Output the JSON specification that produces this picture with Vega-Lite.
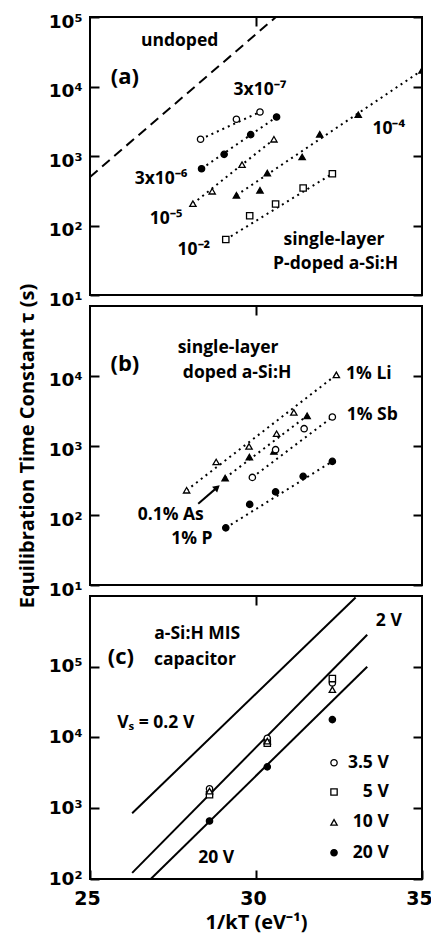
{
  "$schema": "https://vega.github.io/schema/vega-lite/v6.json",
  "background": "white",
  "padding": {"left": 16, "top": 11, "right": 0, "bottom": 2},
  "bounds": "flush",
  "spacing": 11,
  "config": {
    "view": {"stroke": "black", "strokeWidth": 2},
    "font": "Open Sans",
    "axis": {"grid": false, "domain": false, "tickColor": "black", "tickWidth": 2, "tickSize": -9, "labelPadding": 17, "labelOffset": 4,
      "labelFont": "DejaVu Sans", "labelFontWeight": "bold", "labelFontSize": 18.5, "labelColor": "black",
      "titleFont": "Open Sans", "titleFontWeight": "bold", "titleFontSize": 20, "titleColor": "black"},
    "text": {"font": "Open Sans", "fontWeight": "bold", "color": "black", "fontSize": 17.5}
  },
  "resolve": {"scale": {"x": "independent", "y": "independent", "shape": "independent", "fill": "independent"}},
  "datasets": {
    "fitsA": [
      {"s": "a1", "x": 28.33, "y": 1740}, {"s": "a1", "x": 30.12, "y": 4300},
      {"s": "a2", "x": 28.36, "y": 656}, {"s": "a2", "x": 30.62, "y": 3640},
      {"s": "a3", "x": 28.10, "y": 206}, {"s": "a3", "x": 30.54, "y": 1740},
      {"s": "a4", "x": 29.41, "y": 272}, {"s": "a4", "x": 35.0, "y": 17100},
      {"s": "a5", "x": 29.09, "y": 63}, {"s": "a5", "x": 32.30, "y": 556}
    ],
    "undoped": [{"x": 25, "y": 500}, {"x": 30.6, "y": 100000}],
    "pointsA": [
      {"x": 28.33, "y": 1740, "m": "oc"}, {"x": 29.41, "y": 3375, "m": "oc"}, {"x": 30.12, "y": 4300, "m": "oc"},
      {"x": 28.36, "y": 656, "m": "fc"}, {"x": 29.04, "y": 1057, "m": "fc"}, {"x": 29.84, "y": 2027, "m": "fc"}, {"x": 30.62, "y": 3640, "m": "fc"},
      {"x": 28.10, "y": 206, "m": "ot"}, {"x": 28.68, "y": 311, "m": "ot"}, {"x": 29.58, "y": 750, "m": "ot"}, {"x": 30.54, "y": 1740, "m": "ot"},
      {"x": 29.41, "y": 272, "m": "ft"}, {"x": 30.12, "y": 321, "m": "ft"}, {"x": 30.34, "y": 569, "m": "ft"}, {"x": 31.39, "y": 968, "m": "ft"}, {"x": 31.92, "y": 2050, "m": "ft"}, {"x": 33.08, "y": 3930, "m": "ft"}, {"x": 35.0, "y": 17100, "m": "ft"},
      {"x": 29.09, "y": 63, "m": "os"}, {"x": 29.81, "y": 138, "m": "os"}, {"x": 30.59, "y": 204, "m": "os"}, {"x": 31.42, "y": 347, "m": "os"}, {"x": 32.30, "y": 556, "m": "os"}
    ],
    "textA": [
      {"x": 27.7, "y": 45200, "t": "undoped"},
      {"x": 30.12, "y": 8900, "t": "3x10⁻⁷"},
      {"x": 27.14, "y": 468, "t": "3x10⁻⁶"},
      {"x": 27.29, "y": 123, "t": "10⁻⁵"},
      {"x": 28.13, "y": 44.7, "t": "10⁻²"},
      {"x": 34.0, "y": 2450, "t": "10⁻⁴"},
      {"x": 32.35, "y": 61.7, "t": "single-layer"},
      {"x": 32.4, "y": 27.9, "t": "P-doped  a-Si:H"}
    ],
    "tagA": [{"x": 26.05, "y": 13700, "t": "(a)"}],
    "fitsB": [
      {"s": "b1", "x": 27.91, "y": 228}, {"s": "b1", "x": 32.42, "y": 10300},
      {"s": "b2", "x": 29.07, "y": 342}, {"s": "b2", "x": 31.54, "y": 2670},
      {"s": "b3", "x": 29.89, "y": 349}, {"s": "b3", "x": 32.30, "y": 2560},
      {"s": "b4", "x": 29.09, "y": 66}, {"s": "b4", "x": 32.30, "y": 592}
    ],
    "pointsB": [
      {"x": 27.91, "y": 228, "m": "ot"}, {"x": 28.80, "y": 581, "m": "ot"}, {"x": 29.79, "y": 970, "m": "ot"}, {"x": 30.62, "y": 1476, "m": "ot"}, {"x": 31.14, "y": 2980, "m": "ot"}, {"x": 32.42, "y": 10300, "m": "ot"},
      {"x": 29.07, "y": 342, "m": "ft"}, {"x": 29.80, "y": 684, "m": "ft"}, {"x": 30.54, "y": 823, "m": "ft"}, {"x": 31.54, "y": 2670, "m": "ft"},
      {"x": 29.89, "y": 349, "m": "oc"}, {"x": 30.59, "y": 871, "m": "oc"}, {"x": 31.45, "y": 1742, "m": "oc"}, {"x": 32.30, "y": 2560, "m": "oc"},
      {"x": 29.09, "y": 66, "m": "fc"}, {"x": 29.81, "y": 143, "m": "fc"}, {"x": 30.59, "y": 216, "m": "fc"}, {"x": 31.42, "y": 361, "m": "fc"}, {"x": 32.30, "y": 592, "m": "fc"}
    ],
    "textB": [
      {"x": 29.16, "y": 25100, "t": "single-layer"},
      {"x": 29.43, "y": 11000, "t": "doped  a-Si:H"},
      {"x": 33.4, "y": 10700, "t": "1% Li"},
      {"x": 33.5, "y": 2750, "t": "1% Sb"},
      {"x": 27.43, "y": 100, "t": "0.1% As"},
      {"x": 28.07, "y": 46, "t": "1% P"}
    ],
    "tagB": [{"x": 26.05, "y": 14500, "t": "(b)"}],
    "arrowB": [{"x": 28.26, "y": 146.6, "x2": 28.83, "y2": 251}],
    "linesC": [
      {"s": "c1", "x": 26.27, "y": 849}, {"s": "c1", "x": 33.0, "y": 955000},
      {"s": "c2", "x": 26.27, "y": 122}, {"s": "c2", "x": 33.35, "y": 284000},
      {"s": "c3", "x": 26.83, "y": 100}, {"s": "c3", "x": 33.35, "y": 100000}
    ],
    "pointsC": [
      {"x": 28.6, "y": 1890, "m": "oc"}, {"x": 30.34, "y": 9770, "m": "oc"}, {"x": 32.30, "y": 59000, "m": "oc"},
      {"x": 28.6, "y": 1550, "m": "os"}, {"x": 30.34, "y": 8300, "m": "os"}, {"x": 32.30, "y": 68000, "m": "os"},
      {"x": 28.6, "y": 1750, "m": "ot"}, {"x": 30.34, "y": 8900, "m": "ot"}, {"x": 32.30, "y": 47500, "m": "ot"},
      {"x": 28.6, "y": 660, "m": "fc"}, {"x": 30.34, "y": 3850, "m": "fc"}, {"x": 32.30, "y": 17900, "m": "fc"},
      {"x": 32.35, "y": 4400, "m": "oc"}, {"x": 32.35, "y": 1694, "m": "os"}, {"x": 32.35, "y": 631, "m": "ot"}, {"x": 32.35, "y": 235, "m": "fc"}
    ],
    "legendC": [
      {"x": 34.0, "y": 4400, "t": "3.5 V"}, {"x": 34.0, "y": 1694, "t": "5 V"}, {"x": 34.0, "y": 631, "t": "10 V"}, {"x": 34.0, "y": 235, "t": "20 V"}
    ],
    "textC": [
      {"x": 28.23, "y": 295000, "t": "a-Si:H MIS"},
      {"x": 28.16, "y": 126000, "t": "capacitor"},
      {"x": 26.98, "y": 15800, "t": "Vₛ = 0.2 V"},
      {"x": 34.0, "y": 437000, "t": "2 V"},
      {"x": 28.8, "y": 200, "t": "20 V"}
    ],
    "tagC": [{"x": 25.93, "y": 138000, "t": "(c)"}]
  },
  "vconcat": [
    {
      "width": 332, "height": 278,
      "resolve": {"axis": {"x": "independent", "y": "independent"}},
      "layer": [
        {"data": {"name": "fitsA"}, "mark": {"type": "line", "strokeDash": [2, 4], "strokeWidth": 2, "color": "black"},
         "encoding": {
           "x": {"field": "x", "type": "quantitative", "scale": {"domain": [25, 35]}, "axis": {"orient": "top", "values": [30], "labels": false, "title": null}},
           "y": {"field": "y", "type": "quantitative", "scale": {"type": "log", "domain": [10, 100000]}, "axis": {"orient": "left", "values": [10, 100, 1000, 10000, 100000], "title": null, "labelExpr": "datum.value == 10 ? '10¹' : datum.value == 100 ? '10²' : datum.value == 1000 ? '10³' : datum.value == 10000 ? '10⁴' : datum.value == 100000 ? '10⁵' : '10⁶'"}},
           "detail": {"field": "s"}}},
        {"data": {"name": "undoped"}, "mark": {"type": "line", "strokeDash": [10, 6], "strokeWidth": 2, "color": "black"},
         "encoding": {
           "x": {"field": "x", "type": "quantitative", "axis": null},
           "y": {"field": "y", "type": "quantitative", "axis": {"orient": "right", "values": [10, 100, 1000, 10000, 100000], "labels": false, "title": null}}}},
        {"data": {"name": "pointsA"}, "mark": {"type": "point", "size": 40, "strokeWidth": 1.3, "stroke": "black", "opacity": 1, "fillOpacity": 1, "clip": true},
         "encoding": {
           "x": {"field": "x", "type": "quantitative", "axis": null},
           "y": {"field": "y", "type": "quantitative", "axis": null},
           "shape": {"field": "m", "type": "nominal", "scale": {"domain": ["oc", "fc", "ot", "ft", "os"], "range": ["circle", "circle", "triangle-up", "triangle-up", "square"]}, "legend": null},
           "fill": {"field": "m", "type": "nominal", "scale": {"domain": ["oc", "fc", "ot", "ft", "os"], "range": ["white", "black", "white", "black", "white"]}, "legend": null}}},
        {"data": {"name": "textA"}, "mark": {"type": "text"},
         "encoding": {
           "x": {"field": "x", "type": "quantitative", "axis": null},
           "y": {"field": "y", "type": "quantitative", "axis": null},
           "text": {"field": "t"}}},
        {"data": {"name": "tagA"}, "mark": {"type": "text", "fontSize": 22},
         "encoding": {
           "x": {"field": "x", "type": "quantitative", "axis": null},
           "y": {"field": "y", "type": "quantitative", "axis": null},
           "text": {"field": "t"}}}
      ]
    },
    {
      "width": 332, "height": 279,
      "resolve": {"axis": {"x": "independent", "y": "independent"}},
      "layer": [
        {"data": {"name": "fitsB"}, "mark": {"type": "line", "strokeDash": [2, 4], "strokeWidth": 2, "color": "black"},
         "encoding": {
           "x": {"field": "x", "type": "quantitative", "scale": {"domain": [25, 35]}, "axis": {"orient": "top", "values": [30], "labels": false, "title": null}},
           "y": {"field": "y", "type": "quantitative", "scale": {"type": "log", "domain": [10, 100000]}, "axis": {"orient": "left", "values": [10, 100, 1000, 10000], "title": "Equilibration Time Constant τ (s)", "titlePadding": 11, "labelExpr": "datum.value == 10 ? '10¹' : datum.value == 100 ? '10²' : datum.value == 1000 ? '10³' : datum.value == 10000 ? '10⁴' : datum.value == 100000 ? '10⁵' : '10⁶'"}},
           "detail": {"field": "s"}}},
        {"data": {"name": "pointsB"}, "mark": {"type": "point", "size": 40, "strokeWidth": 1.3, "stroke": "black", "opacity": 1, "fillOpacity": 1},
         "encoding": {
           "x": {"field": "x", "type": "quantitative", "axis": null},
           "y": {"field": "y", "type": "quantitative", "axis": {"orient": "right", "values": [10, 100, 1000, 10000], "labels": false, "title": null}},
           "shape": {"field": "m", "type": "nominal", "scale": {"domain": ["oc", "fc", "ot", "ft", "os"], "range": ["circle", "circle", "triangle-up", "triangle-up", "square"]}, "legend": null},
           "fill": {"field": "m", "type": "nominal", "scale": {"domain": ["oc", "fc", "ot", "ft", "os"], "range": ["white", "black", "white", "black", "white"]}, "legend": null}}},
        {"data": {"name": "arrowB"}, "mark": {"type": "rule", "strokeWidth": 2, "color": "black"},
         "encoding": {
           "x": {"field": "x", "type": "quantitative", "axis": null},
           "y": {"field": "y", "type": "quantitative", "axis": null},
           "x2": {"field": "x2"}, "y2": {"field": "y2"}}},
        {"data": {"name": "arrowB"}, "mark": {"type": "point", "shape": "triangle-up", "filled": true, "color": "black", "size": 60, "angle": 49, "opacity": 1},
         "encoding": {
           "x": {"field": "x2", "type": "quantitative", "axis": null},
           "y": {"field": "y2", "type": "quantitative", "axis": null}}},
        {"data": {"name": "textB"}, "mark": {"type": "text"},
         "encoding": {
           "x": {"field": "x", "type": "quantitative", "axis": null},
           "y": {"field": "y", "type": "quantitative", "axis": null},
           "text": {"field": "t"}}},
        {"data": {"name": "tagB"}, "mark": {"type": "text", "fontSize": 22},
         "encoding": {
           "x": {"field": "x", "type": "quantitative", "axis": null},
           "y": {"field": "y", "type": "quantitative", "axis": null},
           "text": {"field": "t"}}}
      ]
    },
    {
      "width": 332, "height": 283,
      "resolve": {"axis": {"x": "independent", "y": "independent"}},
      "layer": [
        {"data": {"name": "linesC"}, "mark": {"type": "line", "strokeWidth": 2, "color": "black", "clip": true},
         "encoding": {
           "x": {"field": "x", "type": "quantitative", "scale": {"domain": [25, 35]}, "axis": {"orient": "bottom", "values": [25, 30, 35], "title": "1/kT (eV⁻¹)", "labelPadding": 19, "labelOffset": -3, "titlePadding": 4, "labelFontSize": 19, "labelFlush": false}},
           "y": {"field": "y", "type": "quantitative", "scale": {"type": "log", "domain": [100, 1000000]}, "axis": {"orient": "left", "values": [100, 1000, 10000, 100000], "title": null, "labelOffset": -1, "labelExpr": "datum.value == 10 ? '10¹' : datum.value == 100 ? '10²' : datum.value == 1000 ? '10³' : datum.value == 10000 ? '10⁴' : datum.value == 100000 ? '10⁵' : '10⁶'"}},
           "detail": {"field": "s"}}},
        {"data": {"name": "pointsC"}, "mark": {"type": "point", "size": 40, "strokeWidth": 1.3, "stroke": "black", "opacity": 1, "fillOpacity": 1},
         "encoding": {
           "x": {"field": "x", "type": "quantitative", "axis": {"orient": "top", "values": [30], "labels": false, "title": null}},
           "y": {"field": "y", "type": "quantitative", "axis": {"orient": "right", "values": [100, 1000, 10000, 100000], "labels": false, "title": null}},
           "shape": {"field": "m", "type": "nominal", "scale": {"domain": ["oc", "fc", "ot", "ft", "os"], "range": ["circle", "circle", "triangle-up", "triangle-up", "square"]}, "legend": null},
           "fill": {"field": "m", "type": "nominal", "scale": {"domain": ["oc", "fc", "ot", "ft", "os"], "range": ["white", "black", "white", "black", "white"]}, "legend": null}}},
        {"data": {"name": "legendC"}, "mark": {"type": "text", "align": "right"},
         "encoding": {
           "x": {"field": "x", "type": "quantitative", "axis": null},
           "y": {"field": "y", "type": "quantitative", "axis": null},
           "text": {"field": "t"}}},
        {"data": {"name": "textC"}, "mark": {"type": "text"},
         "encoding": {
           "x": {"field": "x", "type": "quantitative", "axis": null},
           "y": {"field": "y", "type": "quantitative", "axis": null},
           "text": {"field": "t"}}},
        {"data": {"name": "tagC"}, "mark": {"type": "text", "fontSize": 22},
         "encoding": {
           "x": {"field": "x", "type": "quantitative", "axis": null},
           "y": {"field": "y", "type": "quantitative", "axis": null},
           "text": {"field": "t"}}}
      ]
    }
  ]
}
